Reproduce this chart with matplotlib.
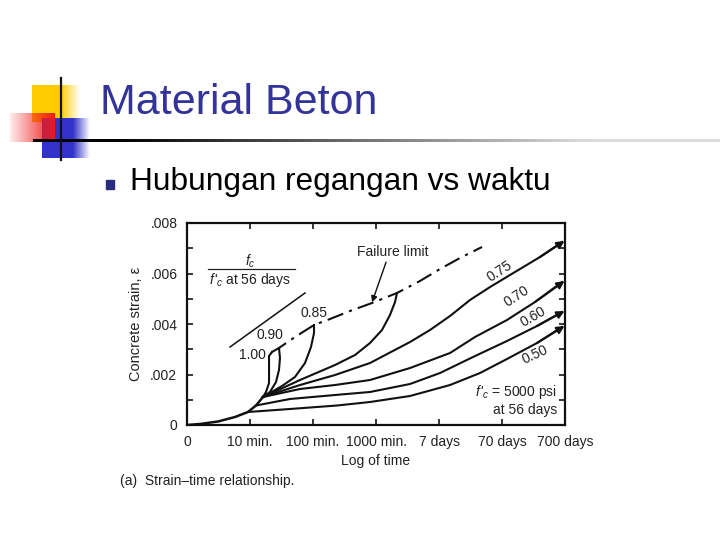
import numpy as np
import matplotlib
matplotlib.use('Agg')
import matplotlib.pyplot as plt

plt.rcParams['font.family'] = ['Liberation Sans', 'DejaVu Sans']
plt.rcParams['mathtext.fontset'] = 'custom'
plt.rcParams['mathtext.it'] = 'Liberation Sans:italic'
plt.rcParams['mathtext.rm'] = 'Liberation Sans'

# x en decadas de tiempo (0 = inicio, 1 = 10 min, ... 6 = 700 dias), y en deformacion
x_labels = ['0', '10 min.', '100 min.', '1000 min.', '7 days', '70 days', '700 days']
y_labels = ['0', '.002', '.004', '.006', '.008']

base_x = [0.0, 0.206, 0.492, 0.762, 0.968, 1.095, 1.206]
base_y = [0.0, 0.00004, 0.000139, 0.000317, 0.000515, 0.000772, 0.001109]

c050_x = [0.968, 1.635, 2.381, 2.905, 3.540, 4.175, 4.651, 5.079, 5.556, 5.952]
c050_y = [0.000515, 0.000634, 0.000772, 0.000911, 0.001149, 0.001584, 0.002059, 0.002614, 0.003248, 0.003881]

c060_x = [1.095, 1.635, 2.349, 2.905, 3.540, 4.016, 4.540, 5.079, 5.556, 5.952]
c060_y = [0.000772, 0.001030, 0.001188, 0.001307, 0.001624, 0.002059, 0.002693, 0.003327, 0.003921, 0.004475]

c070_x = [1.206, 1.794, 2.349, 2.905, 3.540, 4.175, 4.571, 5.079, 5.524, 5.952]
c070_y = [0.001109, 0.001426, 0.001584, 0.001782, 0.002257, 0.002851, 0.003485, 0.004158, 0.004871, 0.005663]

c075_x = [1.206, 1.794, 2.349, 2.905, 3.540, 3.857, 4.175, 4.492, 4.810, 5.206, 5.603, 5.952]
c075_y = [0.001109, 0.001584, 0.001980, 0.002455, 0.003287, 0.003762, 0.004317, 0.004950, 0.005465, 0.006059, 0.006653, 0.007248]

c080_x = [1.206, 1.794, 2.349, 2.667, 2.905, 3.095, 3.222, 3.302, 3.333]
c080_y = [0.001109, 0.001782, 0.002376, 0.002772, 0.003248, 0.003762, 0.004356, 0.004871, 0.005228]

c085_x = [1.206, 1.317, 1.508, 1.714, 1.873, 1.968, 2.016, 2.016]
c085_y = [0.001109, 0.001267, 0.001545, 0.001901, 0.002455, 0.003089, 0.003644, 0.003960]

c090_x = [1.206, 1.317, 1.413, 1.460, 1.476, 1.460]
c090_y = [0.001109, 0.001307, 0.001703, 0.002178, 0.002653, 0.003050]

c100_x = [1.206, 1.254, 1.302, 1.302, 1.349]
c100_y = [0.001109, 0.001307, 0.001663, 0.002733, 0.002891]

fail_x = [1.349, 1.460, 1.714, 2.016, 2.270, 2.587, 2.937, 3.333, 3.698, 4.016, 4.333, 4.683]
fail_y = [0.002891, 0.003050, 0.003485, 0.003960, 0.004198, 0.004515, 0.004832, 0.005228, 0.005703, 0.006178, 0.006614, 0.007050]

guia_x = [0.683, 1.873]
guia_y = [0.003089, 0.005228]

fig = plt.figure(figsize=(7.2, 5.4), dpi=100)

# Fondo de la diapositiva (coordenadas en pixeles)
bg = fig.add_axes([0, 0, 1, 1])
bg.set_xlim(0, 720)
bg.set_ylim(540, 0)
bg.axis('off')


def bloque(ax, x0, x1, y0, y1, rgb, a_izq, a_der, solido=0.0):
    n = 200
    t = np.linspace(0, 1, n)
    alpha = np.where(t < solido, a_izq, a_izq + (a_der - a_izq) * np.clip((t - solido) / (1 - solido + 1e-9), 0, 1))
    img = np.zeros((1, n, 4))
    img[0, :, 0] = rgb[0]
    img[0, :, 1] = rgb[1]
    img[0, :, 2] = rgb[2]
    img[0, :, 3] = alpha
    ax.imshow(img, extent=(x0, x1, y1, y0), aspect='auto', interpolation='bilinear', zorder=1)


bloque(bg, 32, 80, 85, 122, (1.0, 0.8, 0.0), 1.0, 0.0, solido=0.6)
bloque(bg, 42, 90, 118, 158, (0.2, 0.2, 0.8), 1.0, 0.0, solido=0.65)
bloque(bg, 10, 55, 113, 142, (0.95, 0.1, 0.1), 0.08, 1.0)

# linea horizontal con degradado de negro a gris claro
linea = np.zeros((1, 300, 4))
linea[0, :, 3] = 1.0
gris = np.clip(np.linspace(-0.15, 1.1, 300), 0, 0.86)
linea[0, :, 0] = gris
linea[0, :, 1] = gris
linea[0, :, 2] = gris
bg.imshow(linea, extent=(33, 720, 142.5, 139.5), aspect='auto', interpolation='bilinear', zorder=2)
bg.plot([61, 61], [78, 160], color='#111111', lw=1.6, zorder=3)
bg.set_xlim(0, 720)
bg.set_ylim(540, 0)

bg.text(100, 103, 'Material Beton', fontsize=31, color='#333399', va='center', ha='left')
bg.add_patch(plt.Rectangle((106, 180), 8, 9, color='#2b2b80', zorder=3))
bg.text(130, 182, 'Hubungan regangan vs waktu', fontsize=22.8, color='black', va='center', ha='left')
bg.text(120, 481, '(a)  Strain\u2013time relationship.', fontsize=10, color='#222222', va='center', ha='left')

# Grafica
ax = fig.add_axes([187 / 720, 115 / 540, 378 / 720, 202 / 540])
ax.set_xlim(0, 6)
ax.set_ylim(0, 0.008)

lw = 1.5
col = '#111111'
ax.plot(base_x, base_y, color=col, lw=lw + 0.3)
for cx, cy in [(c050_x, c050_y), (c060_x, c060_y), (c070_x, c070_y), (c075_x, c075_y)]:
    ax.plot(cx, cy, color=col, lw=lw)
    ax.annotate('', xy=(cx[-1] + 0.04, cy[-1] + 0.00004), xytext=(cx[-2], cy[-2]),
                arrowprops=dict(arrowstyle='-|>', color=col, lw=lw, mutation_scale=11,
                                shrinkA=0, shrinkB=0))
for cx, cy in [(c080_x, c080_y), (c085_x, c085_y), (c090_x, c090_y), (c100_x, c100_y)]:
    ax.plot(cx, cy, color=col, lw=lw)

ax.plot(fail_x, fail_y, color=col, lw=lw, linestyle=(0, (8, 3, 1.5, 3)))
ax.plot(guia_x, guia_y, color=col, lw=1.1)

ax.annotate('', xy=(2.937, 0.00486), xytext=(3.16, 0.00645),
            arrowprops=dict(arrowstyle='-|>', color=col, lw=1.0, mutation_scale=9,
                            shrinkA=0, shrinkB=0))
ax.text(3.27, 0.00685, 'Failure limit', fontsize=10, ha='center', va='center', color='#222222')

fs = 10
ax.text(1.032, 0.00277, '1.00', fontsize=fs, ha='center', va='center', color='#222222')
ax.text(1.317, 0.00356, '0.90', fontsize=fs, ha='center', va='center', color='#222222')
ax.text(2.016, 0.00444, '0.85', fontsize=fs, ha='center', va='center', color='#222222')
ax.text(4.968, 0.00610, '0.75', fontsize=fs, ha='center', va='center', rotation=33, color='#222222')
ax.text(5.238, 0.00511, '0.70', fontsize=fs, ha='center', va='center', rotation=33, color='#222222')
ax.text(5.492, 0.00428, '0.60', fontsize=fs, ha='center', va='center', rotation=30, color='#222222')
ax.text(5.524, 0.00277, '0.50', fontsize=fs, ha='center', va='center', rotation=25, color='#222222')

ax.text(1.0, 0.00650, '$f_c$', fontsize=fs, ha='center', va='center', color='#222222')
ax.plot([0.333, 1.714], [0.00618, 0.00618], color='#222222', lw=0.9)
ax.text(1.0, 0.00576, "$f\\,'_{\\!c}$ at 56 days", fontsize=fs, ha='center', va='center', color='#222222')

ax.text(5.873, 0.00131, "$f\\,'_{\\!c}$ = 5000 psi", fontsize=fs, ha='right', va='center', color='#222222')
ax.text(5.873, 0.00059, 'at 56 days', fontsize=fs, ha='right', va='center', color='#222222')

ax.set_xticks(range(7))
ax.set_xticklabels(x_labels)
ax.set_yticks([0, 0.002, 0.004, 0.006, 0.008])
ax.set_yticklabels(y_labels)
ax.set_yticks(np.arange(0, 0.0081, 0.001), minor=True)
ax.tick_params(axis='both', which='both', direction='in', top=True, right=True,
               length=4, width=1.1, labelsize=10, labelcolor='#222222', pad=7)
ax.tick_params(axis='x', which='minor', bottom=False, top=False)
for s in ax.spines.values():
    s.set_linewidth(1.6)
    s.set_color(col)

ax.set_xlabel('Log of time', fontsize=10, color='#222222', labelpad=4)
ax.set_ylabel('Concrete strain, \u03b5', fontsize=10.5, color='#222222', labelpad=5)

fig.savefig('out.png', dpi=100)
